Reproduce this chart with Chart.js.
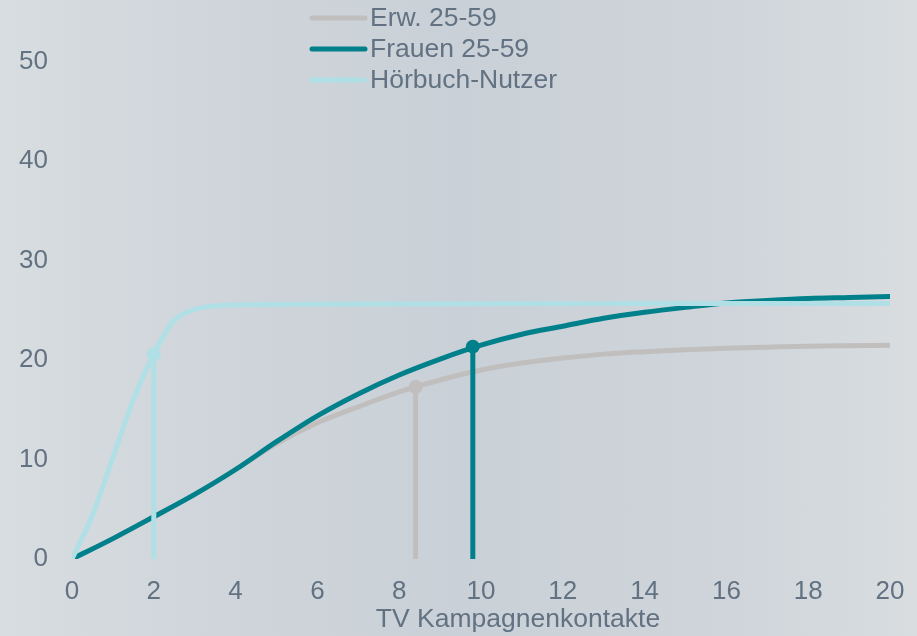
<!DOCTYPE html>
<html lang="de">
<head>
<meta charset="utf-8">
<title>TV Kampagnenkontakte</title>
<script src="https://cdn.jsdelivr.net/npm/chart.js@4/dist/chart.umd.min.js"></script>
<style>
  html, body { margin: 0; padding: 0; }
  body {
    width: 917px; height: 636px; overflow: hidden;
    background: linear-gradient(to right, #d8dde0 0%, #d0d6db 20%, #c9d0d7 50%, #cfd5da 80%, #d9dde0 100%);
  }
  #wrap { position: relative; width: 917px; height: 636px; }
</style>
</head>
<body>
<div id="wrap"><canvas id="chart" width="917" height="636"></canvas></div>
<script>
// Reichweitenkurven nach Anzahl TV-Kontakten
const contacts = [0, 1, 2, 3, 4, 5, 6, 7, 8, 9, 10, 11, 12, 13, 14, 15, 16, 17, 18, 19, 20];
const erwValues = [0, 2.05, 4.25, 6.5, 9.0, 11.6, 13.7, 15.3, 16.8, 18.0, 19.0, 19.7, 20.2, 20.6, 20.85, 21.05, 21.2, 21.3, 21.4, 21.45, 21.5];
const frauenValues = [0, 2.05, 4.25, 6.5, 9.0, 11.8, 14.4, 16.6, 18.5, 20.1, 21.5, 22.6, 23.4, 24.2, 24.8, 25.3, 25.75, 26.0, 26.2, 26.3, 26.4];
const hoerbuchContacts = [0, 0.5, 1, 1.5, 2, 2.5, 3, 3.5, 4, 5, 6, 8, 10, 12, 14, 16, 18, 20];
const hoerbuchValues = [0, 4.4, 10.2, 16.0, 20.6, 24.0, 25.1, 25.45, 25.55, 25.6, 25.62, 25.64, 25.66, 25.67, 25.68, 25.69, 25.7, 25.7];

// Markierte Kontaktpunkte je Zielgruppe
const seriesLabels = ['Erw. 25-59', 'Frauen 25-59', 'Hörbuch-Nutzer'];
const markerContacts = [8.4, 9.8, 2];
const markerValues = [17.3, 21.35, 20.6];

const xTicks = [0, 2, 4, 6, 8, 10, 12, 14, 16, 18, 20];
const yTicks = [0, 10, 20, 30, 40, 50];
const xTitle = 'TV Kampagnenkontakte';

const colors = ['#c0bfbe', '#00808a', '#b0e0e6'];
const textColor = '#627282';
const fontFamily = '"Liberation Sans", Arial, sans-serif';

const curveX = [contacts, contacts, hoerbuchContacts];
const curveY = [erwValues, frauenValues, hoerbuchValues];

const datasets = [];
// Reichweitenkurven
seriesLabels.forEach((label, i) => {
  datasets.push({
    label: label,
    data: curveX[i].map((x, k) => ({ x: x, y: curveY[i][k] })),
    borderColor: colors[i],
    backgroundColor: colors[i],
    borderWidth: 5,
    pointRadius: 0,
    cubicInterpolationMode: 'monotone',
    fill: false,
    isCurve: true,
    order: 10 - i
  });
});
// Senkrechte Linien mit Punkt am Kurvenwert
seriesLabels.forEach((label, i) => {
  datasets.push({
    label: label + ' Marker',
    data: [{ x: markerContacts[i], y: 0 }, { x: markerContacts[i], y: markerValues[i] }],
    borderColor: colors[i],
    backgroundColor: colors[i],
    borderWidth: 5,
    pointRadius: [0, 7],
    pointHoverRadius: [0, 7],
    pointBorderWidth: 0,
    borderCapStyle: 'butt',
    fill: false,
    isCurve: false,
    order: 5 - i
  });
});

// Legende als senkrechte Liste oben in der Mitte, dazu der Achsentitel
const annotations = {
  id: 'annotations',
  afterDraw(chart) {
    const ctx = chart.ctx;
    const lineX0 = 312, lineX1 = 365, textX = 370;
    const rowY = [18, 49, 80];
    ctx.save();
    chart.data.datasets.filter(d => d.isCurve).forEach((d, i) => {
      ctx.beginPath();
      ctx.lineCap = 'round';
      ctx.lineWidth = 5;
      ctx.strokeStyle = d.borderColor;
      ctx.moveTo(lineX0, rowY[i]);
      ctx.lineTo(lineX1, rowY[i]);
      ctx.stroke();
      ctx.fillStyle = textColor;
      ctx.font = '26.5px ' + fontFamily;
      ctx.textBaseline = 'middle';
      ctx.textAlign = 'left';
      ctx.fillText(d.label, textX, rowY[i] + 1);
    });
    ctx.fillStyle = textColor;
    ctx.font = '26.5px ' + fontFamily;
    ctx.textBaseline = 'middle';
    ctx.textAlign = 'center';
    ctx.fillText(xTitle, 518, 620);
    ctx.restore();
  }
};

new Chart(document.getElementById('chart'), {
  type: 'line',
  data: { datasets: datasets },
  options: {
    responsive: false,
    devicePixelRatio: 1,
    animation: false,
    layout: { padding: { top: 12, right: 27, bottom: 0, left: 0 } },
    plugins: {
      legend: { display: false },
      tooltip: { enabled: false }
    },
    scales: {
      x: {
        type: 'linear',
        min: 0,
        max: 20,
        grid: { display: false, drawTicks: false },
        border: { display: false },
        afterBuildTicks: s => { s.ticks = xTicks.map(v => ({ value: v })); },
        afterFit: s => { s.height = 77; s.paddingLeft = 0; s.paddingRight = 0; },
        ticks: {
          color: textColor,
          font: { family: fontFamily, size: 26 },
          padding: 17,
          maxRotation: 0
        },
        title: { display: false }
      },
      y: {
        type: 'linear',
        min: 0,
        max: 55,
        grid: { display: false, drawTicks: false },
        border: { display: false },
        afterBuildTicks: s => { s.ticks = yTicks.map(v => ({ value: v })); },
        afterFit: s => { s.width = 72; s.paddingTop = 0; s.paddingBottom = 0; },
        ticks: {
          color: textColor,
          font: { family: fontFamily, size: 26 },
          padding: 24
        }
      }
    }
  },
  plugins: [annotations]
});
</script>
</body>
</html>
